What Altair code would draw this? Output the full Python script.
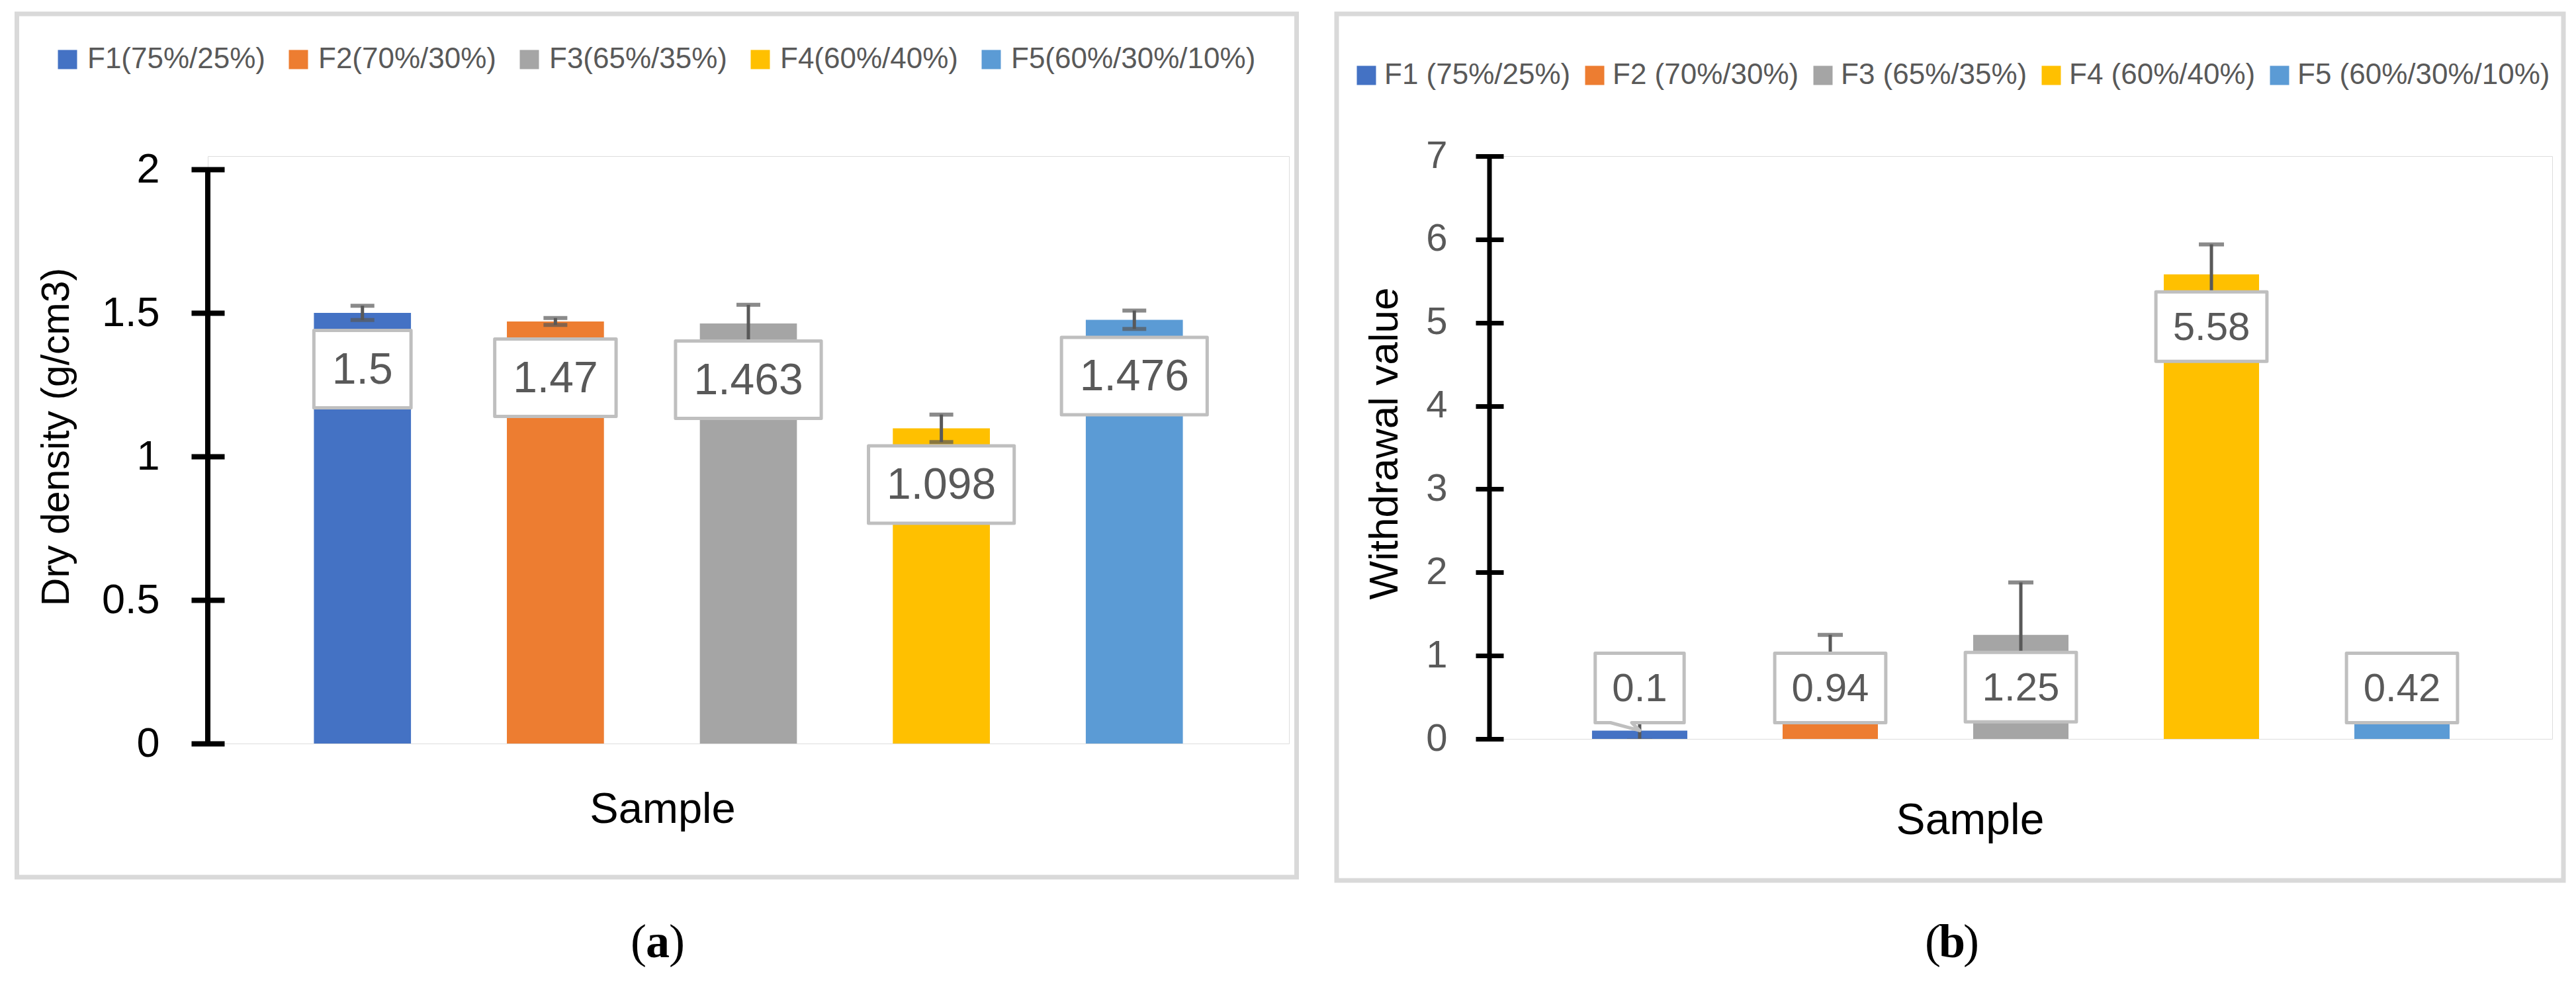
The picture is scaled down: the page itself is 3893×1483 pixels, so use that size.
import altair as alt
import pandas as pd

# ---------------- data ----------------
samples = ["F1", "F2", "F3", "F4", "F5"]
legend_a = ["F1(75%/25%)", "F2(70%/30%)", "F3(65%/35%)", "F4(60%/40%)", "F5(60%/30%/10%)"]
legend_b = ["F1 (75%/25%)", "F2 (70%/30%)", "F3 (65%/35%)", "F4 (60%/40%)", "F5 (60%/30%/10%)"]
colors = ["#4472C4", "#ED7D31", "#A5A5A5", "#FFC000", "#5B9BD5"]

density = [1.5, 1.47, 1.463, 1.098, 1.476]
density_err = [0.025, 0.012, 0.065, 0.048, 0.032]
density_ticks = [0, 0.5, 1, 1.5, 2]

withdrawal = [0.1, 0.94, 1.25, 5.58, 0.42]
withdrawal_err = [0.12, 0.31, 0.63, 0.36, 0.1]
withdrawal_ticks = [0, 1, 2, 3, 4, 5, 6, 7]

FONT = "Liberation Sans"
SERIF = "Liberation Serif"


def build_rows(values, errs, labels, span, ymax, cfg):
    ppu = span / ymax
    rows = []
    for s, lab, v, e in zip(samples, labels, values, errs):
        txt = str(v)
        tw = sum(0.278 if ch == "." else 0.556 for ch in txt) * cfg["label_fs"]
        hw = (tw + cfg["box_pad"]) / 2
        hh = cfg["box_half_h"]
        center_px = max(v * ppu - cfg["label_off"], cfg["label_min"])
        gap = center_px - v * ppu  # px from label centre down to the bar top
        if gap > hh + 4:
            path = (f"M{-hw:.1f},{-hh:.1f}H{hw:.1f}V{hh:.1f}H-12L0,{gap:.1f}"
                    f"L-44,{hh:.1f}H{-hw:.1f}Z")
        else:
            path = f"M{-hw:.1f},{-hh:.1f}H{hw:.1f}V{hh:.1f}H{-hw:.1f}Z"
        rows.append(dict(sample=s, legend=lab, value=v, lo=v - e, hi=v + e,
                         label=txt, label_y=center_px / ppu, box=path))
    return pd.DataFrame(rows)


def panel(values, errs, labels, ticks, title_y, cfg):
    W, H, ymax, top = cfg["W"], cfg["H"], cfg["ymax"], cfg["top"]
    df = build_rows(values, errs, labels, H - top, ymax, cfg)
    one = pd.DataFrame({"k": [0]})

    xs = alt.X("sample:N", sort=samples,
               scale=alt.Scale(paddingInner=cfg["pi"], paddingOuter=cfg["po"]),
               axis=alt.Axis(labels=False, ticks=False, domain=False, grid=False,
                             title="Sample", titleFont=FONT, titleFontSize=cfg["xt_fs"],
                             titleFontWeight="normal", titleColor="black",
                             titleX=cfg["xt_x"], titleY=cfg["xt_y"],
                             titleAlign="center", titleBaseline="alphabetic"))
    yscale = alt.Scale(domain=[0, ymax], nice=False, zero=True, range=[H, top])
    ys = alt.Y("value:Q", scale=yscale,
               axis=alt.Axis(values=ticks, format="~g", domain=False, grid=False,
                             tickSize=cfg["tick_len"] * 2, tickWidth=cfg["tick_w"],
                             tickColor="black", offset=-cfg["tick_len"],
                             labelFont=FONT, labelFontSize=cfg["lab_fs"],
                             labelColor=cfg["lab_col"], labelPadding=cfg["lab_pad"],
                             title=title_y, titleFont=FONT, titleFontSize=cfg["yt_fs"],
                             titleFontWeight="normal", titleColor="black",
                             titleX=cfg["yt_x"], titleY=cfg["yt_y"], titleAngle=270,
                             titleAlign="center", titleBaseline="alphabetic"))

    base = alt.Chart(df)

    frame = alt.Chart(one).mark_rect(fill="white", fillOpacity=0, stroke="#D9D9D9",
                                     strokeWidth=7).encode(
        x=alt.value(cfg["fx0"]), x2=alt.value(cfg["fx1"]),
        y=alt.value(cfg["fy0"]), y2=alt.value(cfg["fy1"]))

    bars = base.mark_bar().encode(
        x=xs, y=ys,
        color=alt.Color("legend:N", scale=alt.Scale(domain=labels, range=colors),
                        legend=alt.Legend(orient="none", legendX=cfg["lg_x"],
                                          legendY=cfg["lg_y"], direction="horizontal",
                                          columns=5, title=None, symbolType="square",
                                          symbolSize=841, symbolStrokeWidth=0,
                                          labelFont=FONT, labelFontSize=cfg["lg_fs"],
                                          labelColor="#595959", labelLimit=1000,
                                          labelOffset=cfg["lg_off"],
                                          columnPadding=cfg["lg_pad"], padding=0)))

    axis_line = alt.Chart(one).mark_rule(color="black", strokeWidth=cfg["tick_w"]).encode(
        x=alt.value(0), y=alt.datum(0, scale=yscale), y2=alt.datum(ymax))

    err_rule = base.mark_rule(color="#595959", strokeWidth=5, clip=True).encode(
        x="sample:N", y="lo:Q", y2="hi:Q")
    cap_hi = base.mark_tick(color="#595959", orient="horizontal", size=cfg["cap"],
                            thickness=6, clip=True).encode(x="sample:N", y="hi:Q")
    cap_lo = base.mark_tick(color="#595959", orient="horizontal", size=cfg["cap"],
                            thickness=6, clip=True).encode(x="sample:N", y="lo:Q")

    boxes = base.mark_point(filled=True, fill="white", stroke="#BFBFBF", strokeWidth=5,
                            opacity=1, size=4, strokeJoin="round").encode(
        x="sample:N", y="label_y:Q", shape=alt.Shape("box:N", scale=None))
    texts = base.mark_text(font=FONT, fontSize=cfg["label_fs"], color="#595959",
                           align="center", baseline="middle", dy=2).encode(
        x="sample:N", y="label_y:Q", text="label:N")

    cap_l = alt.Chart(one).mark_text(font=SERIF, fontSize=72, color="black",
                                     align="right", baseline="alphabetic").encode(
        x=alt.value(cfg["cap_x"] - 17), y=alt.value(cfg["cap_y"]), text=alt.value("("))
    cap_m = alt.Chart(one).mark_text(font=SERIF, fontSize=72, fontWeight="bold",
                                     color="black", align="center",
                                     baseline="alphabetic").encode(
        x=alt.value(cfg["cap_x"]), y=alt.value(cfg["cap_y"]), text=alt.value(cfg["cap_t"]))
    cap_r = alt.Chart(one).mark_text(font=SERIF, fontSize=72, color="black",
                                     align="left", baseline="alphabetic").encode(
        x=alt.value(cfg["cap_x"] + 17), y=alt.value(cfg["cap_y"]), text=alt.value(")"))

    return alt.layer(frame, bars, axis_line, err_rule, cap_hi, cap_lo, boxes, texts,
                     cap_l, cap_m, cap_r).properties(width=W, height=H)


# both plot areas start at the same top; panel (a) leaves a 20px gap above its scale
cfg_a = dict(W=1634, H=888, top=20, ymax=2, pi=0.497, po=0.55,
             label_fs=66, box_pad=55, box_half_h=58.5, label_off=85, label_min=0,
             tick_len=25, tick_w=8, lab_fs=63, lab_col="black", lab_pad=48,
             yt_fs=59, yt_x=-236, yt_y=424, xt_fs=65, xt_x=687, xt_y=119,
             fx0=-288.5, fx1=1645.5, fy0=-215, fy1=1090,
             lg_x=-234, lg_y=-168, lg_fs=44, lg_off=8, lg_pad=27, cap=36,
             cap_x=680, cap_y=1211, cap_t="a")
cfg_b = dict(W=1606, H=881, top=0, ymax=7, pi=0.5, po=0.538,
             label_fs=60, box_pad=51, box_half_h=52.5, label_off=79, label_min=77,
             tick_len=21, tick_w=7, lab_fs=58, lab_col="#595959", lab_pad=43,
             yt_fs=62, yt_x=-161, yt_y=434, xt_fs=66, xt_x=726, xt_y=143,
             fx0=-231, fx1=1623, fy0=-215, fy1=1095,
             lg_x=-208, lg_y=-144, lg_fs=44, lg_off=5, lg_pad=14, cap=38,
             cap_x=699, cap_y=1211, cap_t="b")

pa = panel(density, density_err, legend_a, density_ticks, "Dry density (g/cm3)", cfg_a)
pb = panel(withdrawal, withdrawal_err, legend_b, withdrawal_ticks, "Withdrawal value", cfg_b)

chart = alt.hconcat(pa, pb, spacing=52).resolve_scale(color="independent").properties(
    padding={"left": 13, "top": 9, "right": 0, "bottom": 0}
).configure_view(stroke=None).configure(background="white")

chart.save("out.html", embed_options={"renderer": "svg", "actions": False})
